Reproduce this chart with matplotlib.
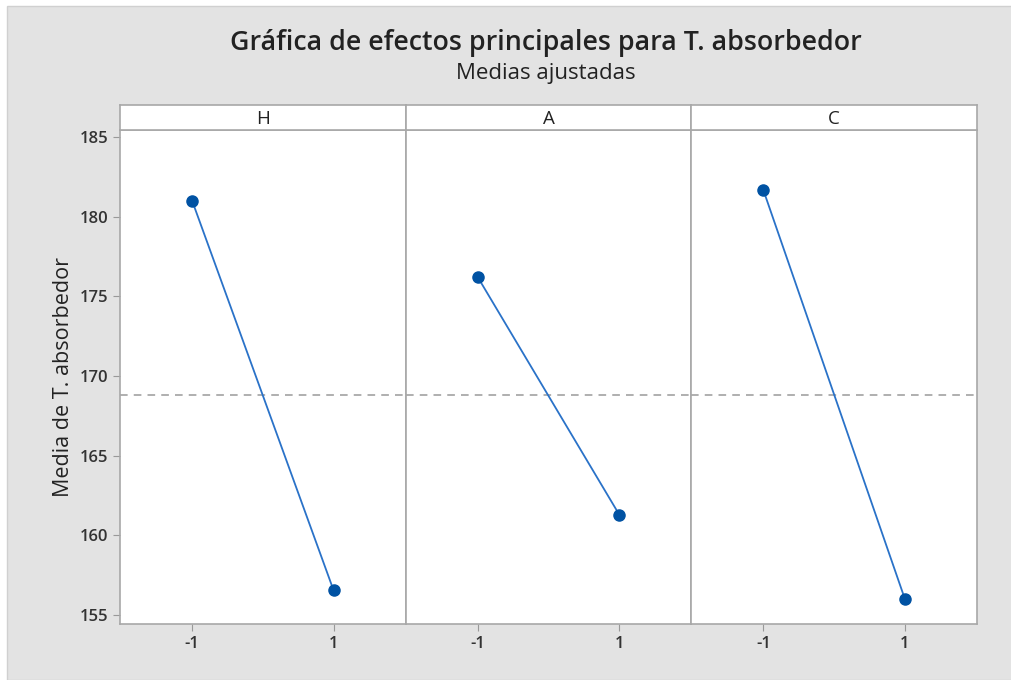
import numpy as np
from matplotlib import pyplot as plt
from matplotlib.patches import Rectangle

plt.rcParams["font.family"] = ["Open Sans", "DejaVu Sans"]

factors = ["H", "A", "C"]
levels = [-1, 1]
means = {
    "H": [181.0, 156.55],
    "A": [176.2, 161.3],
    "C": [181.65, 156.0],
}
grand_mean = 168.78
y_ticks = [155, 160, 165, 170, 175, 180, 185]

bg = "#e3e3e3"
frame = "#a8a8a8"

fig = plt.figure(figsize=(10.11, 6.8), dpi=100)
fig.patch.set_facecolor("white")
fig.patches.append(Rectangle((7 / 1011, 0), 1, 1 - 6 / 680, transform=fig.transFigure,
                             facecolor=bg, edgecolor="#d0d0d0", lw=1, zorder=-10))

W, H = 1011, 680
left, right = 120, 977
top_hdr, bot_hdr, bottom = 105, 130, 624
pw = (right - left) / 3

for i, f in enumerate(factors):
    x0 = left + i * pw
    ax = fig.add_axes([x0 / W, 1 - bottom / H, pw / W, (bottom - bot_hdr) / H])
    ax.set_facecolor("white")
    ax.plot(levels, means[f], color="#2a72c8", lw=1.3, zorder=2)
    ax.plot(levels, means[f], "o", color="#0052a3", ms=8, zorder=3)
    ax.axhline(grand_mean, color="#9a9a9a", ls=(0, (5, 4)), lw=1.1, zorder=1)
    ax.set_xlim(-2.02, 2.02)
    ax.set_ylim(154.43, 185.44)
    ax.set_xticks(levels)
    ax.set_xticklabels([str(v) for v in levels])
    ax.set_yticks(y_ticks)
    ax.tick_params(colors="#999999", labelcolor="#333333", labelsize=12, length=5)
    for lab in ax.get_xticklabels() + ax.get_yticklabels():
        lab.set_fontweight("semibold")
    for s in ax.spines.values():
        s.set_color(frame)
        s.set_linewidth(1.2)
    if i == 0:
        ax.set_ylabel("Media de T. absorbedor", fontsize=15.5, color="#222222", labelpad=4)
    else:
        ax.tick_params(axis="y", left=False, labelleft=False)
    # panel header
    hx = fig.add_axes([x0 / W, 1 - bot_hdr / H, pw / W, (bot_hdr - top_hdr) / H])
    hx.set_facecolor("white")
    hx.set_xticks([])
    hx.set_yticks([])
    for s in hx.spines.values():
        s.set_color(frame)
        s.set_linewidth(1.2)
    hx.text(0.5, 0.45, f, ha="center", va="center", fontsize=13.5, color="#222222",
            transform=hx.transAxes)

fig.text(546 / W, 1 - 43 / H, "Gráfica de efectos principales para T. absorbedor",
         ha="center", va="center", fontsize=19.3, fontweight="semibold", color="#222222")
fig.text(546 / W, 1 - 74 / H, "Medias ajustadas", ha="center", va="center",
         fontsize=16, color="#222222")

fig.savefig("out.png", dpi=100, facecolor=fig.get_facecolor())
